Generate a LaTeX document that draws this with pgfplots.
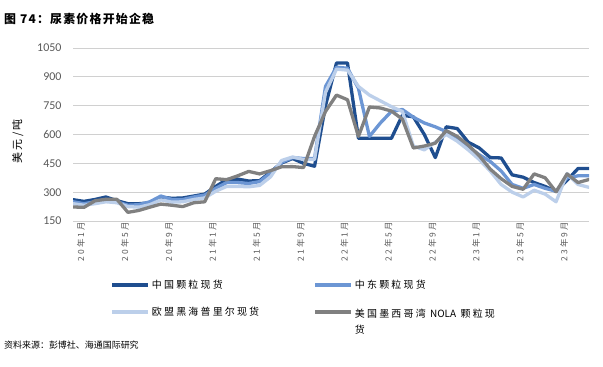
\documentclass[border=0pt]{standalone}
\usepackage{pgfplots}
\pgfplotsset{compat=1.18}
\usepackage{pgfplotstable}
\usepackage{fontspec}
\setmainfont{Noto Sans CJK SC}
\newfontfamily\lgd[LetterSpace=22]{Noto Sans CJK SC}
\newfontfamily\plainf{Noto Sans CJK SC}
\newfontfamily\ttl[LetterSpace=10]{Noto Sans CJK SC}
\newfontfamily\carlito{Carlito}
\definecolor{cnc}{HTML}{1F4E8F}
\definecolor{mec}{HTML}{6C96D4}
\definecolor{euc}{HTML}{BCCFEA}
\definecolor{usc}{HTML}{808080}
\definecolor{gridc}{HTML}{D0D0D0}
\definecolor{tickc}{HTML}{595959}
\pgfplotstableread{
i cn me eu us
0 261 250 240 223
1 252 240 232 221
2 262 250 240 255
3 275 262 250 263
4 256 250 245 263
5 240 232 225 195
6 240 235 222 205
7 245 250 235 222
8 275 280 260 238
9 268 262 248 232
10 270 262 250 225
11 280 275 262 245
12 290 285 270 250
13 330 320 305 370
14 365 350 330 365
15 368 350 330 385
16 358 345 328 408
17 360 355 335 395
18 405 400 380 412
19 452 455 465 432
20 475 480 483 433
21 450 475 470 428
22 435 475 470 590
23 750 850 820 720
24 972 950 940 805
25 972 945 935 781
26 580 840 850 590
27 580 590 805 743
28 580 660 775 738
29 580 720 745 722
30 700 730 720 680
31 692 690 540 530
32 600 660 520 540
33 480 640 560 555
34 640 615 600 620
35 631 580 565 590
36 560 535 520 545
37 530 495 470 490
38 480 460 410 420
39 478 410 340 370
40 390 340 300 330
41 378 320 275 315
42 350 340 310 395
43 330 320 290 375
44 304 305 250 302
45 362 375 397 395
46 423 385 340 350
47 423 385 325 366
}\datatable
\begin{document}
\begin{tikzpicture}[x=1bp,y=1bp]
\path[use as bounding box] (0,0) rectangle (603,366);
\node[anchor=west, font=\ttl\bfseries\fontsize{12}{14}\selectfont, inner sep=0pt] at (4,347) {图 74：尿素价格开始企稳};
\node[anchor=west, font=\fontsize{9}{11}\selectfont, inner sep=0pt] at (4,21) {资料来源：彭博社、海通国际研究};
\begin{axis}[
  at={(73bp,145bp)}, anchor=south west,
  scale only axis, width=516bp, height=173bp,
  xmin=0, xmax=47, ymin=150, ymax=1050,
  ytick={150,300,...,1050},
  xtick={0,4,...,44},
  xticklabels={20年1月,20年5月,20年9月,21年1月,21年5月,21年9月,22年1月,22年5月,22年9月,23年1月,23年5月,23年9月},
  axis line style={draw=none},
  major tick length=0pt,
  ymajorgrids,
  grid style={draw=gridc, line width=1bp},
  /pgf/number format/assume math mode=true,
  /pgf/number format/set thousands separator={},
  yticklabel style={font=\carlito\fontsize{12}{14}\selectfont, text=tickc, xshift=-8bp},
  xticklabel style={rotate=90, anchor=east, font=\lgd\fontsize{8.5}{9}\selectfont, text=tickc, yshift=-8bp, xshift=2bp},
  ylabel={美元/吨},
  ylabel style={font=\lgd\fontsize{11}{12}\selectfont, text=black, at={(axis description cs:-0.107,0.46)}, anchor=center},
  every axis plot/.append style={line width=3.3bp, line join=round, line cap=round},
  legend columns=2,
  legend cell align=left,
  legend image code/.code={\draw[#1, line width=3.8bp, line cap=butt] (0bp,0bp) -- (36bp,0bp);},
  legend style={at={(axis description cs:0.0717,-0.33)}, anchor=north west, draw=none, fill=none, inner sep=0pt,
    font=\lgd\fontsize{10}{17}\selectfont, row sep=11bp,
    cells={anchor=west},
    /tikz/every even column/.append style={column sep=52bp}},
]
\addplot[color=cnc] table[x=i, y=cn] {\datatable};
\addlegendentry{中国颗粒现货}
\addplot[color=mec] table[x=i, y=me] {\datatable};
\addlegendentry{中东颗粒现货}
\addplot[color=euc] table[x=i, y=eu] {\datatable};
\addlegendentry{欧盟黑海普里尔现货}
\addplot[color=usc] table[x=i, y=us] {\datatable};
\addlegendentry{\raisebox{0pt}[\height][0pt]{\begin{tabular}[t]{@{}l@{}}美国墨西哥湾 {\plainf NOLA} 颗粒现\\货\end{tabular}}}
\end{axis}
\end{tikzpicture}
\end{document}
